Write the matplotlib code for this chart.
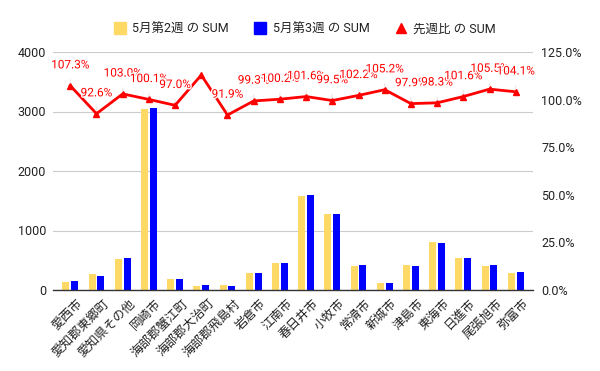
import matplotlib
matplotlib.use("Agg")
import matplotlib.pyplot as plt
import matplotlib.patheffects as pe
import matplotlib.transforms as mtransforms
from matplotlib.lines import Line2D
import numpy as np

plt.rcParams['font.family'] = ['Roboto', 'Noto Sans CJK JP', 'DejaVu Sans']

categories = ["愛西市", "愛知郡東郷町", "愛知県その他", "岡崎市", "海部郡蟹江町", "海部郡大治町",
              "海部郡飛島村", "岩倉市", "江南市", "春日井市", "小牧市", "常滑市", "新城市",
              "津島市", "東海市", "日進市", "尾張旭市", "弥富市"]
week2 = [135, 265, 517, 3045, 185, 67, 80, 285, 450, 1580, 1285, 405, 120, 420, 800, 535, 405, 285]
week3 = [148, 235, 533, 3062, 180, 76, 74, 283, 451, 1605, 1278, 414, 126, 411, 786, 544, 427, 297]
ratio = [107.3, 92.6, 103.0, 100.1, 97.0, 112.9, 91.9, 99.3, 100.2, 101.6, 99.5, 102.2, 105.2,
         97.9, 98.3, 101.6, 105.5, 104.1]
show_label = [True, True, True, True, True, False, True, True, True, True, True, True, True,
              True, True, True, True, True]

legend_names = ["5月第2週 の SUM", "5月第3週 の SUM", "先週比 の SUM"]
c_y, c_b, c_r = "#ffd966", "#0000ff", "#ff0000"

fig = plt.figure(figsize=(6, 3.71), dpi=100)
ax = fig.add_axes([53/600, 1-290/371, 480/600, 238/371])
ax2 = ax.twinx()

x = np.arange(len(categories))
w = 0.27
ax.bar(x - 0.17, week2, width=w, color=c_y, zorder=2)
ax.bar(x + 0.17, week3, width=w, color=c_b, zorder=2)

ax.set_ylim(0, 4000)
ax.set_yticks([0, 1000, 2000, 3000, 4000])
ax.set_xlim(-0.66, len(categories) - 0.34)
ax.grid(axis='y', color='#cccccc', lw=0.8, zorder=0)
ax.set_axisbelow(True)
for s in ['top', 'right', 'left']:
    ax.spines[s].set_visible(False)
ax.spines['bottom'].set_color('#333333')
ax.spines['bottom'].set_linewidth(1.0)
ax.spines['bottom'].set_zorder(3)
ax.tick_params(axis='y', length=0, labelsize=9, pad=5, labelcolor='#222222')
ax.tick_params(axis='x', length=0, pad=4)
ax.set_xticks(x)
ax.set_xticklabels(categories, rotation=45, ha='right', va='top', rotation_mode='anchor',
                   fontsize=9, color='#222222')
offset = mtransforms.ScaledTranslation(6/100, -1/100, fig.dpi_scale_trans)
for lab in ax.get_xticklabels():
    lab.set_transform(lab.get_transform() + offset)

ratio_f = [r / 100 for r in ratio]
ax2.plot(x, ratio_f, color=c_r, lw=2, marker='^', markersize=4.5, zorder=4)
ax2.set_ylim(0, 1.25)
ax2.set_yticks([0, 0.25, 0.5, 0.75, 1.0, 1.25])
ax2.set_yticklabels([f"{v*100:.1f}%" for v in [0, 0.25, 0.5, 0.75, 1.0, 1.25]])
ax2.tick_params(axis='y', length=0, labelsize=9, pad=6, labelcolor='#222222')
for s in ['top', 'right', 'left', 'bottom']:
    ax2.spines[s].set_visible(False)

for xi, r, sl in zip(x, ratio, show_label):
    if not sl:
        continue
    ax2.annotate(f"{r:.1f}%", xy=(xi, r / 100), xytext=(0, 15), textcoords='offset points',
                 ha='center', va='center', fontsize=8.5, color=c_r, zorder=5,
                 path_effects=[pe.withStroke(linewidth=2, foreground='white')],
                 arrowprops=dict(arrowstyle='-', color='#e6e6e6', lw=0.8, shrinkA=4, shrinkB=2))

handles = [Line2D([], [], ls='none', marker='s', markersize=9, color=c_y),
           Line2D([], [], ls='none', marker='s', markersize=9, color=c_b),
           Line2D([], [], ls='none', marker='^', markersize=7, color=c_r)]
fig.legend(handles, legend_names, loc='center', bbox_to_anchor=(0.508, 1 - 29/371), ncol=3,
           frameon=False, fontsize=9, handlelength=1.0, handletextpad=0.5, columnspacing=2.0,
           labelcolor='#222222')

fig.savefig("out.png", dpi=100)
